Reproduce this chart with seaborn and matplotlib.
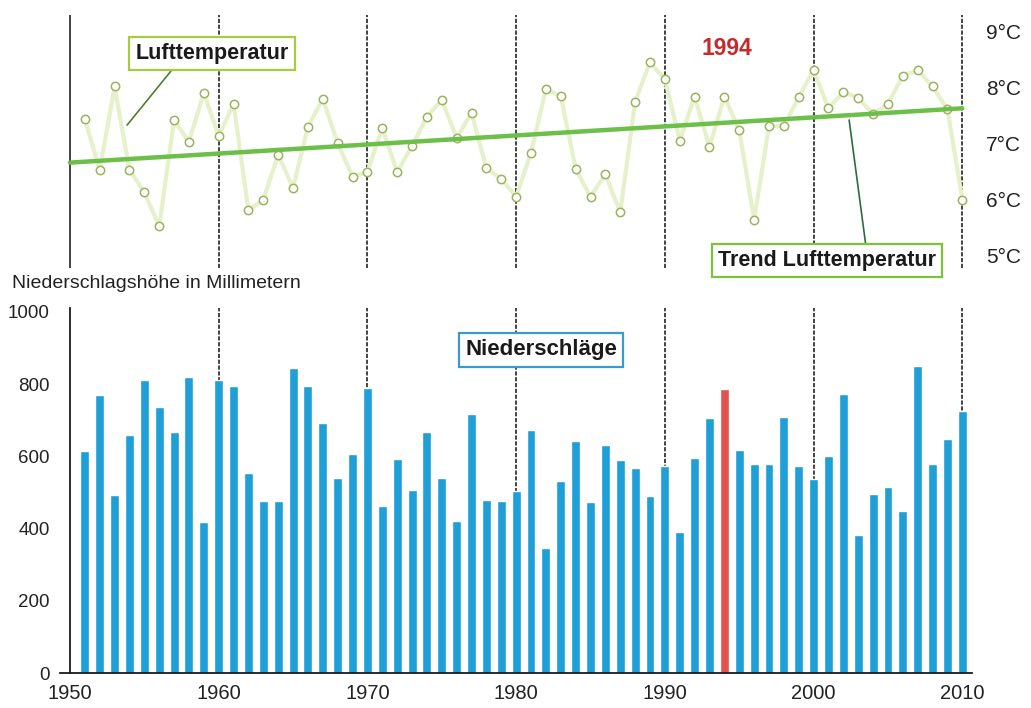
import pandas as pd
import matplotlib.pyplot as plt
import seaborn as sns

# Data
years = list(range(1951, 2011))
temperature = [7.43, 6.51, 8.01, 6.52, 6.12, 5.51, 7.41, 7.02, 7.90, 7.12,
               7.70, 5.80, 5.99, 6.79, 6.20, 7.29, 7.79, 7.00, 6.39, 6.49,
               7.27, 6.48, 6.95, 7.47, 7.77, 7.09, 7.54, 6.55, 6.36, 6.04,
               6.83, 7.96, 7.84, 6.54, 6.04, 6.44, 5.76, 7.74, 8.44, 8.14,
               7.04, 7.83, 6.93, 7.83, 7.23, 5.63, 7.30, 7.30, 7.82, 8.30,
               7.62, 7.91, 7.81, 7.51, 7.70, 8.20, 8.30, 8.01, 7.60, 5.99]
precipitation = [615, 770, 493, 659, 812, 737, 668, 820, 418, 812,
                 795, 554, 476, 476, 845, 795, 693, 540, 607, 790,
                 463, 593, 507, 668, 540, 420, 717, 479, 476, 504,
                 673, 346, 532, 643, 474, 632, 590, 568, 490, 573,
                 391, 596, 706, 787, 618, 579, 579, 709, 573, 537,
                 601, 773, 382, 496, 515, 449, 850, 579, 648, 726]
highlight_year = 1994
trend_years = [1950, 2010]
trend_temps = [6.65, 7.62]
decades = [1950, 1960, 1970, 1980, 1990, 2000, 2010]
temp_ticks = [5, 6, 7, 8, 9]
temp_labels = ['5°C', '6°C', '7°C', '8°C', '9°C']
rain_ticks = [0, 200, 400, 600, 800, 1000]

sns.set_theme(style='white')
plt.rcParams['font.family'] = ['Liberation Sans', 'DejaVu Sans']

W, H = 1031, 708
fig = plt.figure(figsize=(W / 100, H / 100), dpi=100)


def px_box(l, t, r, b):
    return [l / W, 1 - b / H, (r - l) / W, (b - t) / H]


ax_t = fig.add_axes(px_box(60, 15, 972, 268))
ax_b = fig.add_axes(px_box(60, 308, 972, 673))
xlim = (1949.33, 2010.65)

# --- temperature panel ---
for d in decades:
    ax_t.axvline(d, color='#222222', lw=1.2, zorder=0,
                 ls='-' if d == 1950 else (0, (2.5, 1)))
sns.lineplot(x=years, y=temperature, ax=ax_t, color='#e6f1cc', lw=3,
             marker='o', markersize=6, markerfacecolor='white',
             markeredgecolor='#9db25c', markeredgewidth=1.1, zorder=2)
sns.lineplot(x=trend_years, y=trend_temps, ax=ax_t, color='#6cbf48', lw=3.2, zorder=3)

ax_t.set_xlim(*xlim)
ax_t.set_ylim(4.768, 9.286)
ax_t.set_xticks([])
ax_t.yaxis.tick_right()
ax_t.set_yticks(temp_ticks, temp_labels)
ax_t.tick_params(axis='y', length=0, pad=10, labelsize=15, labelcolor='#222222')
for s in ax_t.spines.values():
    s.set_visible(False)

ax_t.annotate('Lufttemperatur', xy=(1953.84, 7.32), xytext=(1959.55, 8.6),
              ha='center', va='center', fontsize=15.5, fontweight='bold', color='#1a1a1a',
              bbox=dict(boxstyle='square,pad=0.28', fc='white', ec='#a6cc40', lw=1.6),
              arrowprops=dict(arrowstyle='-', color='#4f7f2a', lw=1.2, relpos=(0.27, 0),
                              shrinkA=0, shrinkB=0))
ax_t.annotate('Trend Lufttemperatur', xy=(2002.39, 7.41), xytext=(2000.91, 4.91),
              ha='center', va='center', fontsize=15.5, fontweight='bold', color='#1a1a1a',
              annotation_clip=False,
              bbox=dict(boxstyle='square,pad=0.28', fc='white', ec='#7cc23a', lw=1.6),
              arrowprops=dict(arrowstyle='-', color='#2f6b3a', lw=1.2, relpos=(0.68, 1),
                              shrinkA=0, shrinkB=0))
ax_t.text(1994.2, 8.68, '1994', ha='center', va='center', fontsize=16.5,
          fontweight='bold', color='#c62a2a')

# --- precipitation panel ---
df = pd.DataFrame({'year': years, 'mm': precipitation})
df['kind'] = ['hl' if y == highlight_year else 'normal' for y in df['year']]
for d in decades[1:]:
    ax_b.axvline(d, color='#222222', lw=1.2, ls=(0, (2.5, 1)), zorder=0)
sns.barplot(data=df, x='year', y='mm', hue='kind', ax=ax_b, native_scale=True,
            palette={'normal': '#1e9fd8', 'hl': '#e2524f'}, saturation=1,
            dodge=False, width=0.6, errorbar=None, legend=False, zorder=2)

ax_b.set_xlim(*xlim)
ax_b.set_ylim(0, 1011)
ax_b.set_xticks(decades, [str(d) for d in decades])
ax_b.set_yticks(rain_ticks, [str(v) for v in rain_ticks])
ax_b.set_xlabel('')
ax_b.set_ylabel('')
ax_b.spines['top'].set_visible(False)
ax_b.spines['right'].set_visible(False)
ax_b.spines['left'].set_position(('data', 1950))
for s in ('left', 'bottom'):
    ax_b.spines[s].set_color('#1a1a1a')
    ax_b.spines[s].set_linewidth(1.3)
ax_b.tick_params(axis='x', length=6, direction='inout', width=1, color='#1a1a1a',
                 labelsize=14.5, pad=5, labelcolor='#222222')
ax_b.tick_params(axis='y', length=0, pad=14.5, labelsize=13.5, labelcolor='#222222')

ax_b.text(1981.68, 895, 'Niederschläge', ha='center', va='center', fontsize=16,
          fontweight='bold', color='#1a1a1a',
          bbox=dict(boxstyle='square,pad=0.28', fc='white', ec='#3a9ad0', lw=1.6))

fig.text(12 / W, 1 - 283 / H, 'Niederschlagshöhe in Millimetern', ha='left', va='center',
         fontsize=14, color='#222222')

fig.savefig('out.png', dpi=100)
